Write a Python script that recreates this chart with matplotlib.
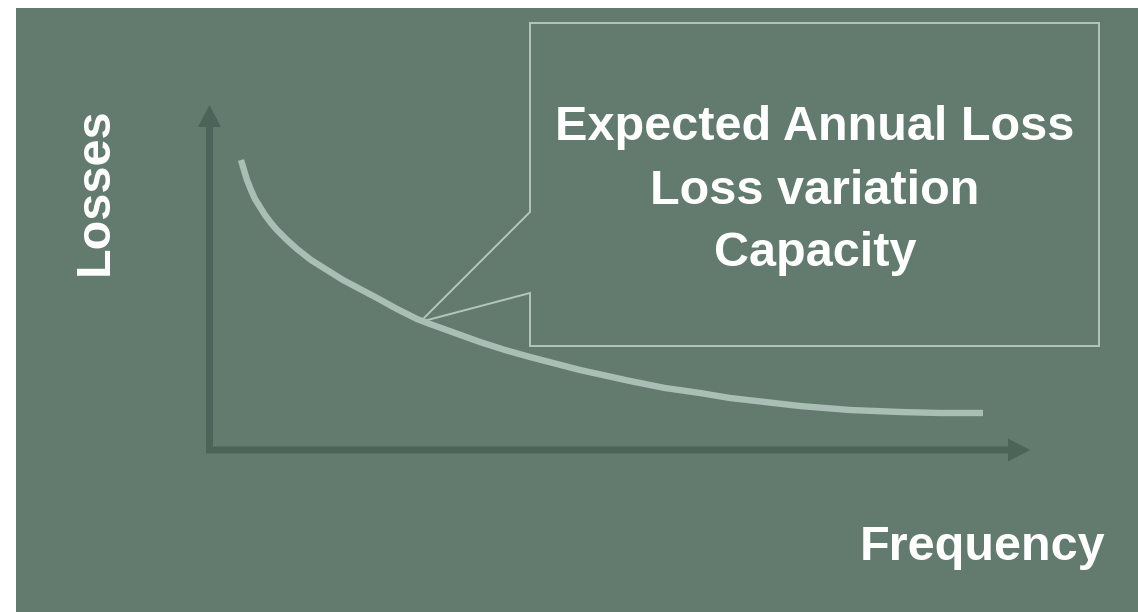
import matplotlib.pyplot as plt
from matplotlib.patches import Rectangle, Polygon, FancyArrow

# loss curve, traced in pixel units (x right, y down)
curve_x = [241, 244, 247, 251, 255, 260, 265, 271, 277, 287, 297, 311, 327, 343, 360, 377, 397, 417,
           430, 455, 480, 505, 530, 580, 630, 665, 700, 730, 765, 800, 850, 900, 940, 983]
curve_y = [160, 170, 180, 190, 199, 207, 215, 223, 230, 240, 249, 260, 270, 280, 289, 298, 309, 319,
           324, 333, 342, 350, 357, 370, 381, 388, 393, 398, 402, 406, 410, 412, 413, 413]

box_lines = ["Expected Annual Loss", "Loss variation", "Capacity"]
x_label = "Frequency"
y_label = "Losses"

panel_color = "#637b6f"
axis_color = "#4b6358"
curve_color = "#a9bfb5"
box_color = "#b3c6bc"

W, H = 1138, 612
fig = plt.figure(figsize=(W / 100, H / 100), dpi=100)
fig.patch.set_facecolor("white")
ax = fig.add_axes([0, 0, 1, 1])
ax.set_xlim(0, W)
ax.set_ylim(H, 0)
ax.axis("off")

# background panel
ax.add_patch(Rectangle((16, 8), W - 16, H - 8, facecolor=panel_color, edgecolor="none"))

# axes arrows
ax.add_patch(FancyArrow(209.5, 453, 0, -348, width=7, head_width=23, head_length=22,
                        length_includes_head=True, color=axis_color, lw=0))
ax.add_patch(FancyArrow(206, 450, 824, 0, width=7, head_width=23, head_length=22,
                        length_includes_head=True, color=axis_color, lw=0))

# curve
ax.plot(curve_x, curve_y, color=curve_color, lw=4.6,
        solid_capstyle="butt", solid_joinstyle="round")

# callout box pointing at the curve
callout = [(530, 23), (1099, 23), (1099, 346), (530, 346), (530, 293),
           (420, 322), (530, 212)]
ax.add_patch(Polygon(callout, closed=True, facecolor="none", edgecolor=box_color, lw=1.4))

font = dict(color="white", fontsize=35, fontweight="bold", family="Liberation Sans")
for i, line in enumerate(box_lines):
    ax.text(815, 128 + i * 63, line, ha="center", va="center", **font)

ax.text(983, 547, x_label, ha="center", va="center", **font)
ax.text(95, 191, y_label, ha="center", va="center", rotation=90, **font)

fig.savefig("out.png", dpi=100, facecolor=fig.get_facecolor())
